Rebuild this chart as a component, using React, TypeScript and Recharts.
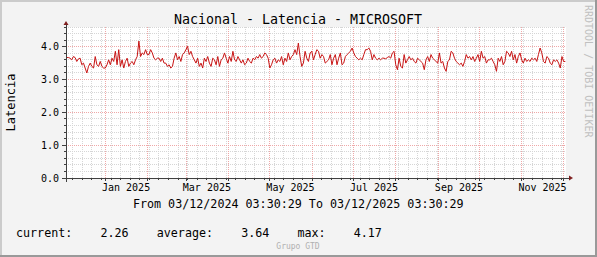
import React from 'react';
import { LineChart, Line, XAxis, YAxis, ReferenceLine, ReferenceDot, CartesianGrid } from 'recharts';

// ---- data ----
const latencyDecFeb = [3.67,3.67,3.65,3.60,3.70,3.67,3.55,3.63,3.65,3.45,3.50,3.35,3.20,3.40,3.50,3.40,3.35,3.70,3.45,3.40,3.55,3.40,3.35,3.35,3.45,3.60,3.45,3.65,3.55,3.86,3.45,3.91,3.40,3.60,3.35,3.55,3.65,3.40,3.50,3.55,3.45,3.60,3.70,4.17,3.70,3.81,3.76,3.91,3.76,3.76,3.91,3.81,3.65,3.60,3.65,3.65,3.55,3.65,3.50];
const latencyMarApr = [3.50,3.40,3.45,3.35,3.40,3.65,3.81,3.60,3.70,3.55,3.76,3.81,3.91,4.01,3.76,3.86,3.70,3.60,3.50,3.65,3.40,3.50,3.35,3.65,3.55,3.70,3.50,3.40,3.65,3.60,3.45,3.70,3.40,3.60,3.65,3.81,3.65,3.50,3.70,3.55,3.86,3.60,3.55,3.70,3.60,3.50,3.60,3.45,3.50,3.65,3.55,3.50,3.65,3.60,3.70,3.65,3.76,3.65,3.70,3.81];
const latencyMayJul = [3.76,3.65,3.35,3.45,3.60,3.65,3.50,3.60,3.55,3.70,3.45,3.65,3.55,3.81,3.60,3.70,3.76,3.91,3.76,4.11,3.70,3.40,3.50,3.86,3.65,3.55,3.81,3.86,3.60,3.76,3.91,3.86,3.65,3.76,3.70,3.50,3.55,3.60,3.76,3.45,3.65,3.76,3.45,3.65,3.81,3.45,3.50,3.70,3.76,3.81,3.86,3.96,3.81,3.70,3.65,3.60,3.65,3.60,3.76,3.91];
const latencyAugSep = [3.91,3.96,3.86,3.60,3.76,3.65,3.60,3.65,3.60,3.65,3.65,3.63,3.67,3.70,3.65,3.81,3.86,3.45,3.30,3.65,3.40,3.35,3.76,3.50,3.60,3.70,3.60,3.65,3.55,3.50,3.65,3.60,3.55,3.50,3.30,3.60,3.70,3.55,3.76,3.65,3.60,3.55,3.50,3.81,3.50,3.55,3.35,3.25,3.55,3.60,3.86,3.81,3.65,3.55,3.50,3.45,3.50,3.40,3.55,3.76];
const latencyOctDec = [3.65,3.70,3.60,3.70,3.55,3.65,3.76,3.55,3.86,3.65,3.70,3.50,3.60,3.60,3.65,3.55,3.45,3.25,3.65,3.55,3.70,3.45,3.55,3.86,3.81,3.70,3.86,3.60,3.76,3.50,3.70,3.81,3.60,3.50,3.65,3.55,3.60,3.55,3.65,3.60,3.65,3.55,3.76,3.96,3.81,3.55,3.50,3.70,3.65,3.50,3.45,3.60,3.55,3.60,3.50,3.35,3.70,3.55,3.55];

const latency = [...latencyDecFeb, ...latencyMarApr, ...latencyMayJul, ...latencyAugSep, ...latencyOctDec];

const X_LABELS = ['Jan 2025', 'Mar 2025', 'May 2025', 'Jul 2025', 'Sep 2025', 'Nov 2025'];
const X_LABEL_MONTHS = [0, 2, 4, 6, 8, 10];
const GRID_MONTHS = [0, 1, 2, 3, 4, 5, 6, 7, 8, 9, 10, 11];
const Y_MAJOR = [0, 1, 2, 3, 4];
const Y_LABELS = ['0.0', '1.0', '2.0', '3.0', '4.0'];
const Y_MINOR = [0.2, 0.4, 0.6, 0.8, 1.2, 1.4, 1.6, 1.8, 2.2, 2.4, 2.6, 2.8, 3.2, 3.4, 3.6, 3.8, 4.2, 4.4, 4.6];

const TITLE = 'Nacional - Latencia - MICROSOFT';
const Y_TITLE = 'Latencia';
const PERIOD = 'From 03/12/2024 03:30:29 To 03/12/2025 03:30:29';
const LEGEND = 'current:    2.26    average:    3.64    max:    4.17';
const FOOTER = 'Grupo GTD';
const WATERMARK = 'RRDTOOL / TOBI OETIKER';

// ---- time helpers ----
const START = Date.UTC(2024, 11, 3, 3, 30, 29);
const END = Date.UTC(2025, 11, 3, 3, 30, 29);
const DAY = 86400000;
const toDay = (t: number) => (t - START) / DAY;
const SPAN = toDay(END);

const monthDays = GRID_MONTHS.map((m) => toDay(Date.UTC(2025, m, 1)));
const labelDays = X_LABEL_MONTHS.map((m) => toDay(Date.UTC(2025, m, 16)));
const weekDays: number[] = [];
for (let t = Date.UTC(2024, 11, 8); t < END; t += 7 * DAY) weekDays.push(toDay(t));

const STEP = (SPAN - 1) / (latency.length - 1);
const data = latency.map((v, i) => ({ day: 0.5 + i * STEP, v }));

const xTicks = Array.from(new Set([...weekDays, ...monthDays, ...labelDays])).sort((a, b) => a - b);
const yTicks = [...Y_MINOR, ...Y_MAJOR].sort((a, b) => a - b);

const FONT = '"DejaVu Sans Mono", monospace';
const AXIS = '#404040';
const ARROW = '#7F1F1F';
const MINOR = '#d6d6d6';
const MAJOR = '#efa8a8';
const LINE = '#c81414';

const XTick = (props: any) => {
  const { x, y, payload } = props;
  const v = payload.value;
  const li = labelDays.indexOf(v);
  const major = monthDays.indexOf(v) >= 0;
  const minor = weekDays.indexOf(v) >= 0;
  return (
    <g>
      {(major || minor) && (
        <line x1={x} x2={x} y1={y} y2={y + (major ? 3 : 2)} stroke={AXIS} shapeRendering="crispEdges" />
      )}
      {li >= 0 && (
        <text x={x} y={y + 13} textAnchor="middle" fontFamily={FONT} fontSize={10} fill="#000">
          {X_LABELS[li]}
        </text>
      )}
    </g>
  );
};

const YTick = (props: any) => {
  const { x, y, payload } = props;
  const v = payload.value;
  const mi = Y_MAJOR.indexOf(v);
  if (mi >= 0) {
    return (
      <g>
        <line x1={x - 4} x2={x} y1={y} y2={y} stroke={AXIS} shapeRendering="crispEdges" />
        <text x={x - 7} y={y + 3.6} textAnchor="end" fontFamily={FONT} fontSize={10} fill="#000">
          {Y_LABELS[mi]}
        </text>
      </g>
    );
  }
  return <line x1={x - 2} x2={x} y1={y} y2={y} stroke={AXIS} shapeRendering="crispEdges" />;
};

const XEnd = (p: any) => (
  <g>
    <line x1={p.cx} x2={p.cx + 4} y1={p.cy} y2={p.cy} stroke={AXIS} shapeRendering="crispEdges" />
    <path d={`M${p.cx + 3},${p.cy - 2.5} L${p.cx + 7},${p.cy} L${p.cx + 3},${p.cy + 2.5} Z`} fill={ARROW} />
  </g>
);
const YEnd = (p: any) => (
  <g>
    <line x1={p.cx} x2={p.cx} y1={p.cy} y2={p.cy - 4} stroke={AXIS} shapeRendering="crispEdges" />
    <path d={`M${p.cx - 2.5},${p.cy - 2} L${p.cx},${p.cy - 6} L${p.cx + 2.5},${p.cy - 2} Z`} fill={ARROW} />
  </g>
);
const Origin = (p: any) => (
  <g>
    <line x1={p.cx - 4} x2={p.cx} y1={p.cy} y2={p.cy} stroke={AXIS} shapeRendering="crispEdges" />
    <line x1={p.cx} x2={p.cx} y1={p.cy} y2={p.cy + 4} stroke={AXIS} shapeRendering="crispEdges" />
  </g>
);

export default function App() {
  return (
    <div style={{ position: 'fixed', left: 0, top: 0, width: 597, height: 257, background: '#F3F3F3', overflow: 'hidden' }}>
      <div style={{ position: 'absolute', left: 0, top: 0 }}>
        <LineChart width={597} height={257} data={data} margin={{ top: 27, right: 31, bottom: 59, left: 6 }}>
          <CartesianGrid horizontal={false} vertical={false} fill="#ffffff" />
          {Y_MINOR.map((v) => (
            <ReferenceLine key={'ym' + v} y={v} stroke={MINOR} strokeDasharray="1 1" shapeRendering="crispEdges" ifOverflow="visible" />
          ))}
          {weekDays.map((d) => (
            <ReferenceLine key={'xm' + d} x={d} stroke={MINOR} strokeDasharray="1 1" shapeRendering="crispEdges" />
          ))}
          {Y_MAJOR.filter((v) => v > 0).map((v) => (
            <ReferenceLine key={'yM' + v} y={v} stroke={MAJOR} strokeDasharray="1 1" shapeRendering="crispEdges" />
          ))}
          {monthDays.map((d) => (
            <ReferenceLine key={'xM' + d} x={d} stroke={MAJOR} strokeDasharray="1 1" shapeRendering="crispEdges" />
          ))}
          <XAxis
            type="number"
            dataKey="day"
            domain={[0, SPAN]}
            ticks={xTicks}
            interval={0}
            tick={<XTick />}
            tickLine={false}
            axisLine={false}
            tickSize={0}
            tickMargin={0}
            height={20}
            allowDataOverflow
          />
          <YAxis
            type="number"
            domain={[0, 4.6]}
            ticks={yTicks}
            interval={0}
            tick={<YTick />}
            tickLine={false}
            axisLine={false}
            tickSize={0}
            tickMargin={0}
            width={60}
            allowDataOverflow
          />
          <Line type="linear" dataKey="v" stroke={LINE} strokeWidth={1} dot={false} isAnimationActive={false} />
          <ReferenceLine y={0} stroke={AXIS} shapeRendering="crispEdges" ifOverflow="visible" />
          <ReferenceLine x={0} stroke={AXIS} shapeRendering="crispEdges" ifOverflow="visible" />
          <ReferenceDot x={SPAN} y={0} r={0} shape={XEnd} ifOverflow="visible" />
          <ReferenceDot x={0} y={4.6} r={0} shape={YEnd} ifOverflow="visible" />
          <ReferenceDot x={0} y={0} r={0} shape={Origin} ifOverflow="visible" />
        </LineChart>
      </div>
      <svg width={597} height={257} style={{ position: 'absolute', left: 0, top: 0, pointerEvents: 'none' }}>
        <rect x={0} y={0} width={597} height={2} fill="#CBCBCB" />
        <rect x={0} y={0} width={2} height={257} fill="#CBCBCB" />
        <rect x={0} y={255} width={597} height={2} fill="#999999" />
        <rect x={595} y={0} width={2} height={257} fill="#999999" />
        <text x={298} y={24} textAnchor="middle" fontFamily={FONT} fontSize={13.3} fill="#000">{TITLE}</text>
        <text x={15} y={102.5} transform="rotate(-90 15 102.5)" textAnchor="middle" fontFamily={FONT} fontSize={12} fill="#000">{Y_TITLE}</text>
        <text x={298.3} y={208.3} textAnchor="middle" fontFamily={FONT} fontSize={11.7} fill="#000">{PERIOD}</text>
        <text x={16} y={236.7} fontFamily={FONT} fontSize={11.7} fill="#000" style={{ whiteSpace: 'pre' }}>{LEGEND}</text>
        <text x={298} y={248.5} textAnchor="middle" fontFamily={FONT} fontSize={8} fill="#b0b0b0">{FOOTER}</text>
        <text x={585} y={5} transform="rotate(90 585 5)" fontFamily={FONT} fontSize={10} fill="#c0c0c0">{WATERMARK}</text>
      </svg>
    </div>
  );
}
